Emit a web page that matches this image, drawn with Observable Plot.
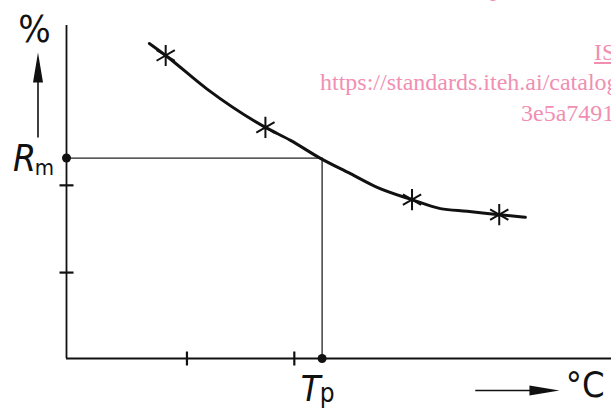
<!DOCTYPE html>
<html>
<head>
<meta charset="utf-8">
<script src="https://cdn.jsdelivr.net/npm/d3@7"></script>
<script src="https://cdn.jsdelivr.net/npm/@observablehq/plot@0.6"></script>
<style>
  html, body { margin: 0; padding: 0; background: #fff; }
  #wrap { position: relative; width: 611px; height: 413px; overflow: hidden; background: #fff; }
  #wm { position: absolute; left: 0; top: 0; width: 611px; height: 413px; pointer-events: none;
        font-family: "Liberation Serif", "DejaVu Serif", serif; font-size: 24px; color: #f08fb2; }
  #wm div { position: absolute; white-space: nowrap; line-height: 1; }
</style>
</head>
<body>
<div id="wrap">
  <div id="chart"></div>
  <div id="wm">
    <div style="left:490px; top:-24px;">p</div>
    <div style="left:594px; top:40px; text-decoration: underline;">IS</div>
    <div style="left:320px; top:70px;">https://standards.iteh.ai/catalog</div>
    <div style="left:521px; top:101px;">3e5a7491</div>
  </div>
</div>
<script>
// Fitted curve (x: temperature, y: %)
const curveX = [15.2, 18.2, 25.8, 36.5, 41.1, 46.6, 52.1, 57.0, 63.4, 68.6, 73.5, 79.4, 84.2];
const curveY = [94.6, 91.0, 80.9, 69.4, 65.5, 60.1, 55.5, 51.4, 47.7, 45.0, 44.2, 43.2, 42.4];
// Measured points
const measX = [18.2, 36.5, 63.4, 79.4];
const measY = [91.0, 69.4, 47.7, 43.2];
// Reference values
const Rm = 60.2;
const Tp = 46.9;
// Axis tick positions
const yTicks = [52.0, 25.8];
const xTicks = [22.1, 41.8];

const curve = curveX.map((x, i) => ({x, y: curveY[i]}));
const meas = measX.map((x, i) => ({x, y: measY[i]}));

const hTick = {draw(c) { c.moveTo(-7, 0); c.lineTo(7, 0); }};
const vTick = {draw(c) { c.moveTo(0, -7); c.lineTo(0, 7); }};
const head = {draw(c) { c.moveTo(0, -15); c.lineTo(5, 15); c.lineTo(-5, 15); c.closePath(); }};

const font = "'DejaVu Sans Condensed', 'DejaVu Sans', sans-serif";

const chart = Plot.plot({
  width: 611,
  height: 413,
  marginLeft: 66,
  marginRight: 0,
  marginTop: 25,
  marginBottom: 55,
  style: {background: "white", overflow: "visible", fontFamily: font},
  x: {domain: [0, 100], axis: null},
  y: {domain: [0, 100], axis: null},
  marks: [
    // axes
    Plot.ruleX([0], {y1: 0, y2: 100, stroke: "#111", strokeWidth: 1.8}),
    Plot.ruleY([0], {x1: 0, x2: 100, stroke: "#111", strokeWidth: 1.8}),
    Plot.dot(yTicks, {x: 0, y: d => d, symbol: hTick, fill: "none", stroke: "#111", strokeWidth: 2.2}),
    Plot.dot(xTicks, {x: d => d, y: 0, symbol: vTick, fill: "none", stroke: "#111", strokeWidth: 2.2}),
    // guide lines
    Plot.ruleY([Rm], {x1: 0, x2: Tp, stroke: "#222", strokeWidth: 1.3}),
    Plot.ruleX([Tp], {y1: 0, y2: Rm, stroke: "#222", strokeWidth: 1.3}),
    Plot.dot([{x: 0, y: Rm}, {x: Tp, y: 0}], {x: "x", y: "y", r: 4.5, fill: "#111"}),
    // curve and points
    Plot.line(curve, {x: "x", y: "y", curve: "monotone-x", stroke: "#111", strokeWidth: 3}),
    Plot.dot(meas, {x: "x", y: "y", symbol: "asterisk", r: 10, stroke: "#111", strokeWidth: 2}),
    // axis arrows
    Plot.link([0], {x1: -5.23, x2: -5.23, y1: 66.4, y2: 87.4, stroke: "#111", strokeWidth: 1.6}),
    Plot.dot([0], {x: -5.23, y: 87.4, symbol: head, fill: "#111", stroke: "none"}),
    Plot.link([0], {x1: 75.0, x2: 87.7, y1: -9.6, y2: -9.6, stroke: "#111", strokeWidth: 1.6}),
    Plot.dot([0], {x: 87.7, y: -9.6, symbol: head, rotate: 90, fill: "#111", stroke: "none"}),
    // labels
    Plot.text(["%"], {x: 0, y: 100, dx: -32, dy: 4, text: d => d, fontSize: 38, lineAnchor: "middle", textAnchor: "middle", fill: "#111"}),
    Plot.text(["R"], {x: 0, y: Rm, dx: -42, dy: 1, text: d => d, fontSize: 37, fontStyle: "italic", lineAnchor: "middle", textAnchor: "middle", fill: "#111"}),
    Plot.text(["m"], {x: 0, y: Rm, dx: -22, dy: 9.5, text: d => d, fontSize: 22, lineAnchor: "middle", textAnchor: "middle", fill: "#111"}),
    Plot.text(["T"], {x: Tp, y: 0, dx: -11.5, dy: 31, text: d => d, fontSize: 36, fontStyle: "italic", lineAnchor: "middle", textAnchor: "middle", fill: "#111"}),
    Plot.text(["p"], {x: Tp, y: 0, dx: 5, dy: 35, text: d => d, fontSize: 26, lineAnchor: "middle", textAnchor: "middle", fill: "#111"}),
    Plot.text(["°C"], {x: 100, y: 0, dx: -7, dy: 27, text: d => d, fontSize: 36, lineAnchor: "middle", textAnchor: "end", fill: "#111"})
  ]
});
document.getElementById("chart").appendChild(chart);
</script>
</body>
</html>
